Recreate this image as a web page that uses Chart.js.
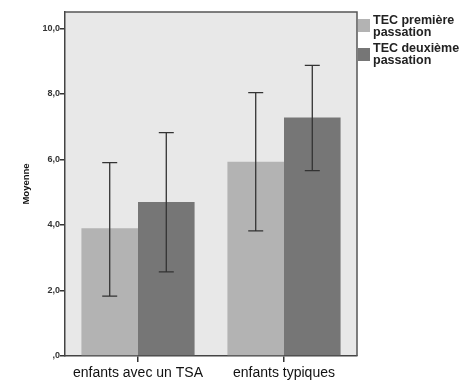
<!DOCTYPE html>
<html>
<head>
<meta charset="utf-8">
<script src="https://cdn.jsdelivr.net/npm/chart.js@4"></script>
<style>
  html, body { margin: 0; padding: 0; background: #fff; }
  #wrap { position: relative; width: 475px; height: 381px; }
</style>
</head>
<body>
<div id="wrap"><canvas id="chart"></canvas></div>
<script>
const categories = ["enfants avec un TSA", "enfants typiques"];
const seriesNames = ["TEC première passation", "TEC deuxième passation"];
const legendLines = [["TEC première", "passation"], ["TEC deuxième", "passation"]];
const firstMeans = [3.9, 5.93];
const secondMeans = [4.7, 7.28];
const firstLow = [1.83, 3.82];
const firstHigh = [5.9, 8.04];
const secondLow = [2.57, 5.66];
const secondHigh = [6.82, 8.87];
const yTicks = [0, 2, 4, 6, 8, 10];
const barColors = ["#b3b3b3", "#767676"];

const errorLows = [firstLow, secondLow];
const errorHighs = [firstHigh, secondHigh];

// grey plot background and frame
const plotFrame = {
  id: "plotFrame",
  beforeDraw(chart) {
    const { ctx, chartArea: a } = chart;
    ctx.save();
    ctx.fillStyle = "#e8e8e8";
    ctx.fillRect(a.left, a.top, a.right - a.left, a.bottom - a.top);
    ctx.restore();
  },
  afterDraw(chart) {
    const { ctx, chartArea: a } = chart;
    ctx.save();
    ctx.strokeStyle = "#555";
    ctx.lineWidth = 1.5;
    ctx.beginPath();
    ctx.moveTo(a.left, a.top);
    ctx.lineTo(a.right, a.top);
    ctx.lineTo(a.right, a.bottom);
    ctx.stroke();
    ctx.restore();
  }
};

// error bars drawn through the y scale
const errorBars = {
  id: "errorBars",
  afterDatasetsDraw(chart) {
    const { ctx } = chart;
    const y = chart.scales.y;
    ctx.save();
    ctx.strokeStyle = "#333";
    ctx.lineWidth = 1.3;
    chart.data.datasets.forEach((ds, di) => {
      const meta = chart.getDatasetMeta(di);
      meta.data.forEach((bar, i) => {
        const x = bar.x;
        const top = y.getPixelForValue(errorHighs[di][i]);
        const bot = y.getPixelForValue(errorLows[di][i]);
        ctx.beginPath();
        ctx.moveTo(x, top); ctx.lineTo(x, bot);
        ctx.moveTo(x - 7.5, top); ctx.lineTo(x + 7.5, top);
        ctx.moveTo(x - 7.5, bot); ctx.lineTo(x + 7.5, bot);
        ctx.stroke();
      });
    });
    ctx.restore();
  }
};

// legend at the right of the frame, two-line labels
const sideLegend = {
  id: "sideLegend",
  afterDraw(chart) {
    const { ctx, chartArea: a } = chart;
    ctx.save();
    ctx.font = "bold 12.5px 'Liberation Sans', Arial, sans-serif";
    ctx.textBaseline = "alphabetic";
    legendLines.forEach((lines, i) => {
      const top = a.top + 7 + i * 29;
      ctx.fillStyle = barColors[i];
      ctx.fillRect(a.right + 1, top, 12, 13);
      ctx.fillStyle = "#222";
      lines.forEach((t, j) => {
        ctx.fillText(t, a.right + 16, a.top + 12 + i * 28 + j * 12);
      });
    });
    ctx.restore();
  }
};

new Chart(document.getElementById("chart"), {
  type: "bar",
  data: {
    labels: categories,
    datasets: [
      { label: seriesNames[0], data: firstMeans, backgroundColor: barColors[0] },
      { label: seriesNames[1], data: secondMeans, backgroundColor: barColors[1] }
    ]
  },
  options: {
    responsive: true,
    maintainAspectRatio: false,
    animation: false,
    layout: { padding: { top: 12, right: 118, left: 21, bottom: 0 } },
    datasets: { bar: { categoryPercentage: 0.775, barPercentage: 1.0 } },
    plugins: {
      legend: { display: false },
      tooltip: { enabled: false }
    },
    scales: {
      x: {
        afterFit(scale) { scale.height = 25; },
        grid: { offset: false, drawOnChartArea: false, drawTicks: true, tickLength: 6, color: "#333", lineWidth: 1.5 },
        border: { display: true, color: "#444", width: 1.5 },
        ticks: { color: "#111", padding: 3, font: { family: "'Liberation Sans', Arial, sans-serif", size: 14 } }
      },
      y: {
        min: 0,
        max: 10.5,
        afterFit(scale) { scale.width = 44; },
        afterBuildTicks(scale) { scale.ticks = yTicks.map(v => ({ value: v })); },
        grid: { drawOnChartArea: false, drawTicks: true, tickLength: 5, color: "#333", lineWidth: 1.5 },
        border: { display: true, color: "#444", width: 1.5 },
        ticks: {
          color: "#333",
          padding: 0,
          font: { family: "'Liberation Sans', Arial, sans-serif", size: 9, weight: "bold" },
          callback: v => v === 0 ? ",0" : v.toFixed(1).replace(".", ",")
        },
        title: {
          display: true,
          text: "Moyenne",
          color: "#111",
          padding: { top: 0, bottom: 0 },
          font: { family: "'Liberation Sans', Arial, sans-serif", size: 9.5, weight: "bold" }
        }
      }
    }
  },
  plugins: [plotFrame, errorBars, sideLegend]
});
</script>
</body>
</html>
